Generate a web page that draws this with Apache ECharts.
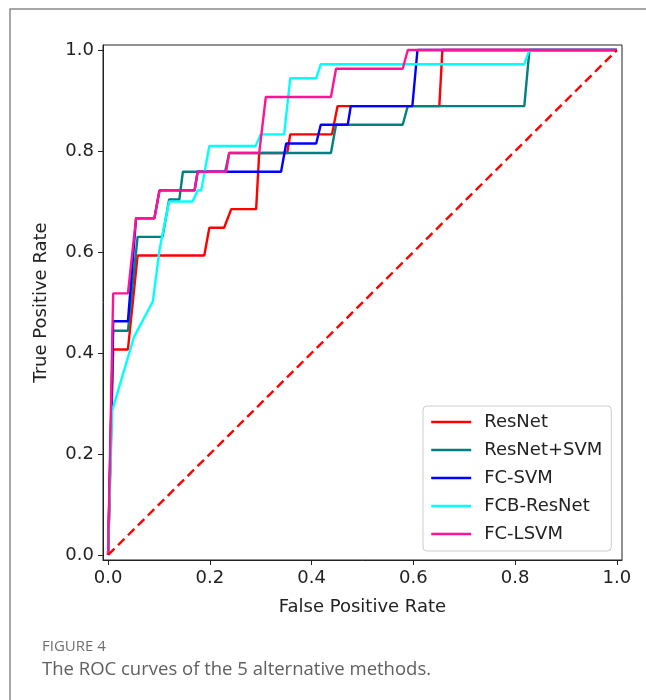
<!DOCTYPE html>
<html>
<head>
<meta charset="utf-8">
<script src="https://cdn.jsdelivr.net/npm/echarts@6/dist/echarts.min.js"></script>
<style>
html,body{margin:0;padding:0;background:#fff;}
#chart{width:646px;height:700px;}
</style>
</head>
<body>
<div id="chart"></div>
<script>
// ---- data ----
const seriesNames = ['ResNet', 'ResNet+SVM', 'FC-SVM', 'FCB-ResNet', 'FC-LSVM'];
const seriesColors = ['#ff0000', '#008080', '#0000ff', '#00ffff', '#ff1493'];

const resnetFpr = [0, 0.010, 0.039, 0.058, 0.189, 0.199, 0.228, 0.242, 0.291, 0.297, 0.352, 0.358, 0.440, 0.451, 0.651, 0.657, 1.0];
const resnetTpr = [0, 0.407, 0.407, 0.593, 0.593, 0.648, 0.648, 0.685, 0.685, 0.796, 0.796, 0.833, 0.833, 0.889, 0.889, 1.0, 1.0];

const resnetSvmFpr = [0, 0.010, 0.039, 0.058, 0.107, 0.120, 0.140, 0.147, 0.230, 0.238, 0.438, 0.448, 0.579, 0.589, 0.818, 0.828, 1.0];
const resnetSvmTpr = [0, 0.444, 0.444, 0.630, 0.630, 0.704, 0.704, 0.759, 0.759, 0.796, 0.796, 0.852, 0.852, 0.889, 0.889, 1.0, 1.0];

const fcSvmFpr = [0, 0.010, 0.039, 0.055, 0.091, 0.101, 0.170, 0.176, 0.340, 0.350, 0.409, 0.418, 0.471, 0.477, 0.598, 0.608, 1.0];
const fcSvmTpr = [0, 0.463, 0.463, 0.667, 0.667, 0.722, 0.722, 0.759, 0.759, 0.815, 0.815, 0.852, 0.852, 0.889, 0.889, 1.0, 1.0];

const fcbResnetFpr = [0, 0.008, 0.051, 0.088, 0.101, 0.107, 0.120, 0.166, 0.176, 0.183, 0.199, 0.290, 0.300, 0.346, 0.358, 0.409, 0.418, 0.818, 0.828, 1.0];
const fcbResnetTpr = [0, 0.286, 0.432, 0.502, 0.604, 0.635, 0.700, 0.700, 0.722, 0.722, 0.810, 0.810, 0.833, 0.833, 0.944, 0.944, 0.972, 0.972, 1.0, 1.0];

const fcLsvmFpr = [0, 0.010, 0.039, 0.055, 0.091, 0.101, 0.170, 0.176, 0.232, 0.238, 0.297, 0.310, 0.438, 0.448, 0.579, 0.589, 1.0];
const fcLsvmTpr = [0, 0.518, 0.518, 0.667, 0.667, 0.722, 0.722, 0.759, 0.759, 0.796, 0.796, 0.907, 0.907, 0.963, 0.963, 1.0, 1.0];

const chanceFpr = [0, 1];
const chanceTpr = [0, 1];

const tickValues = [0, 0.2, 0.4, 0.6, 0.8, 1.0];
const xAxisTitle = 'False Positive Rate';
const yAxisTitle = 'True Positive Rate';
const figureLabel = 'FIGURE 4';
const figureCaption = 'The ROC curves of the 5 alternative methods.';

// ---- build ----
function zip(a, b) { return a.map((v, i) => [v, b[i]]); }
const curves = [
  zip(resnetFpr, resnetTpr),
  zip(resnetSvmFpr, resnetSvmTpr),
  zip(fcSvmFpr, fcSvmTpr),
  zip(fcbResnetFpr, fcbResnetTpr),
  zip(fcLsvmFpr, fcLsvmTpr)
];

const FONT = 'DejaVu Sans';
const series = curves.map((d, i) => ({
  name: seriesNames[i],
  type: 'line',
  data: d,
  symbol: 'none',
  animation: false,
  lineStyle: { color: seriesColors[i], width: 2.4 },
  itemStyle: { color: seriesColors[i] }
}));
series.push({
  name: 'chance',
  type: 'line',
  data: zip(chanceFpr, chanceTpr),
  symbol: 'none',
  animation: false,
  lineStyle: { color: '#ff0000', width: 2.4, type: [9, 5] },
  itemStyle: { color: '#ff0000' }
});

const axisCommon = {
  type: 'value',
  min: -0.01,
  max: 1.01,
  splitLine: { show: false },
  axisLine: { show: true, onZero: false, lineStyle: { color: '#222', width: 1 } },
  axisTick: { show: true, customValues: tickValues, length: 5, inside: false, lineStyle: { color: '#222', width: 1 } },
  axisLabel: {
    customValues: tickValues,
    formatter: v => v.toFixed(1),
    color: '#222', fontFamily: FONT, fontSize: 18, margin: 9
  },
  nameLocation: 'middle',
  nameTextStyle: { color: '#222', fontFamily: FONT, fontSize: 18 }
};

const chart = echarts.init(document.getElementById('chart'), null, { renderer: 'canvas' });
chart.setOption({
  backgroundColor: '#fff',
  animation: false,
  grid: { left: 103, top: 45, right: 24, bottom: 140, show: true, borderColor: '#222', borderWidth: 1, backgroundColor: 'transparent' },
  xAxis: Object.assign({}, axisCommon, { name: xAxisTitle, nameGap: 38 }),
  yAxis: Object.assign({}, axisCommon, { name: yAxisTitle, nameGap: 53 }),
  legend: {
    data: seriesNames,
    orient: 'vertical',
    left: 423, top: 406,
    padding: [7, 9, 8, 7],
    itemWidth: 40, itemHeight: 14, itemGap: 10,
    backgroundColor: 'rgba(255,255,255,0.85)',
    borderColor: '#cccccc', borderWidth: 1, borderRadius: 4,
    textStyle: { fontFamily: FONT, fontSize: 18, color: '#222', lineHeight: 18, padding: [0, 0, 0, 8] },
    itemStyle: { opacity: 0 },
    lineStyle: { width: 2.4 }
  },
  graphic: [
    { type: 'rect', silent: true, shape: { x: 10, y: 9, width: 700, height: 800 }, style: { fill: 'none', stroke: '#8a8a8a', lineWidth: 1.5 } },
    { type: 'text', silent: true, x: 42, y: 647, style: { text: figureLabel, font: '15px "Open Sans"', fill: '#707070', verticalAlign: 'middle' } },
    { type: 'text', silent: true, x: 42, y: 670, style: { text: figureCaption, font: '18.5px "Open Sans"', fill: '#606060', verticalAlign: 'middle' } }
  ],
  series: series
});
</script>
</body>
</html>
